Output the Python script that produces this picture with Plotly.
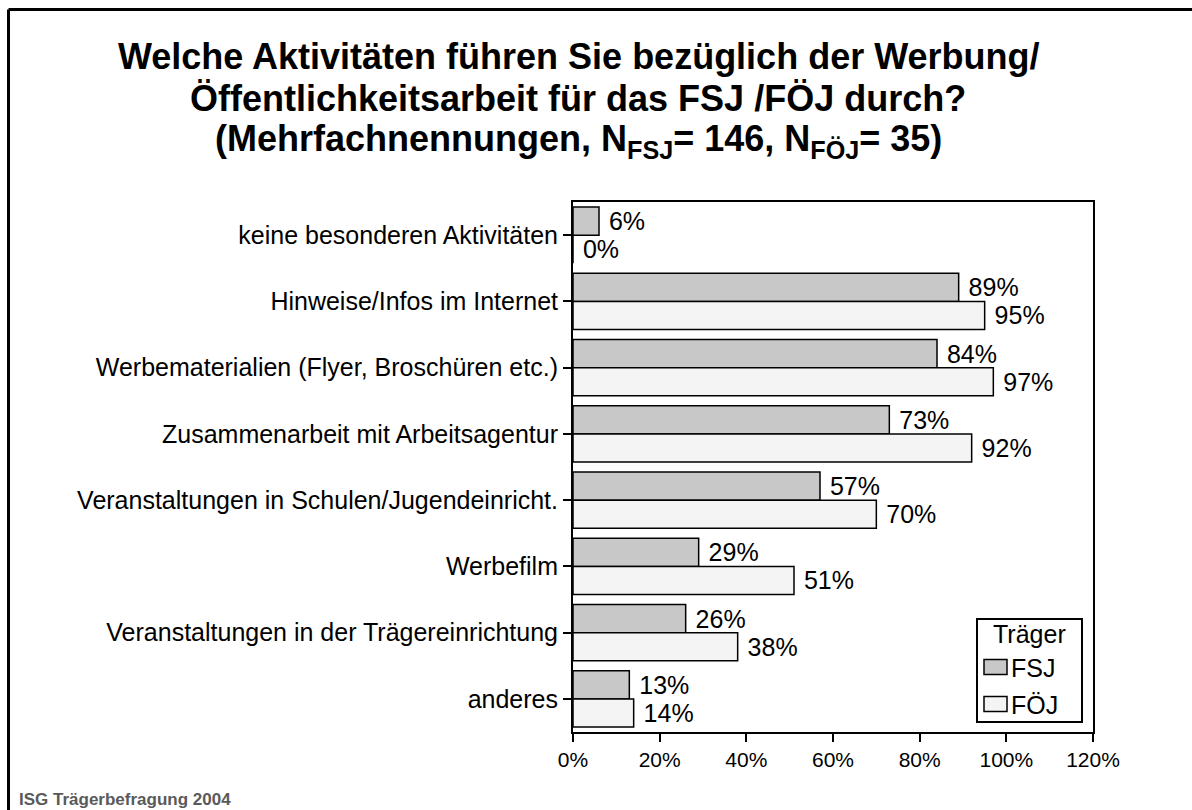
import plotly.graph_objects as go

categories = [
    "keine besonderen Aktivitäten",
    "Hinweise/Infos im Internet",
    "Werbematerialien (Flyer, Broschüren etc.)",
    "Zusammenarbeit mit Arbeitsagentur",
    "Veranstaltungen in Schulen/Jugendeinricht.",
    "Werbefilm",
    "Veranstaltungen in der Trägereinrichtung",
    "anderes",
]
fsj = [6, 89, 84, 73, 57, 29, 26, 13]
foej = [0, 95, 97, 92, 70, 51, 38, 14]
series_names = ["FSJ", "FÖJ"]
legend_title = "Träger"
x_ticks = [0, 20, 40, 60, 80, 100, 120]
x_labels = ["0%", "20%", "40%", "60%", "80%", "100%", "120%"]

FONT = "Arial, Liberation Sans, sans-serif"
COLORS = ["#c8c8c8", "#f4f4f4"]

fig = go.Figure()
for name, vals, col in zip(series_names, [fsj, foej], COLORS):
    fig.add_trace(go.Bar(
        y=categories, x=vals, orientation="h", name=name,
        marker=dict(color=col, line=dict(color="black", width=1.5)),
        text=[f" {v}%" for v in vals], textposition="outside",
        textfont=dict(size=25, color="black", family=FONT), cliponaxis=False,
    ))

L, R, T, B = 573, 1192 - 1093, 202, 810 - 732
pw, ph = 1192 - L - R, 810 - T - B

def px2x(px):
    return (px - L) / pw

def py2y(py):
    return (810 - B - py) / ph

fig.update_layout(
    width=1192, height=810,
    margin=dict(l=L, r=R, t=T, b=B),
    paper_bgcolor="white", plot_bgcolor="white",
    barmode="group", bargap=0.15, bargroupgap=0,
    font=dict(family=FONT, size=22, color="black"),
    showlegend=False,
)
fig.update_xaxes(
    range=[0, 120], tickvals=x_ticks, ticktext=x_labels,
    showgrid=False, zeroline=False, showline=True, linecolor="black", linewidth=2,
    ticks="outside", ticklen=8, tickwidth=1.5, tickcolor="black", mirror=True,
    tickfont=dict(size=21),
)
fig.update_yaxes(
    categoryorder="array", categoryarray=categories, autorange="reversed",
    showgrid=False, showline=True, linecolor="black", linewidth=2,
    ticks="outside", ticklen=8, tickwidth=1.5, tickcolor="black", mirror=True,
    tickfont=dict(size=25),
)

title_lines = [
    ("Welche Aktivitäten führen Sie bezüglich der Werbung/", 57),
    ("Öffentlichkeitsarbeit für das FSJ /FÖJ durch?", 99),
    ("(Mehrfachnennungen, N<sub>FSJ</sub>= 146, N<sub>FÖJ</sub>= 35)", 141),
]
for txt, yc in title_lines:
    fig.add_annotation(
        text=f"<b>{txt}</b>", xref="paper", yref="paper",
        x=px2x(578), y=py2y(yc), xanchor="center", yanchor="middle",
        showarrow=False, font=dict(size=36, family=FONT, color="black"),
    )

fig.add_annotation(
    text="<b>ISG Trägerbefragung 2004</b>", xref="paper", yref="paper",
    x=px2x(17), y=py2y(799), xanchor="left", yanchor="middle",
    showarrow=False, font=dict(size=17, family=FONT, color="#5a5a5a"),
)

# legend box (drawn by hand to match the rectangular swatches)
fig.add_shape(type="rect", xref="paper", yref="paper",
              x0=px2x(977), x1=px2x(1082), y0=py2y(619), y1=py2y(722),
              line=dict(color="black", width=2), fillcolor="white", layer="above")
fig.add_annotation(
    text=legend_title, xref="paper", yref="paper",
    x=px2x(1029.5), y=py2y(634), xanchor="center", yanchor="middle",
    showarrow=False, font=dict(size=25, family=FONT, color="black"),
)
for i, (name, col) in enumerate(zip(series_names, COLORS)):
    yc = 667 + 37 * i
    fig.add_shape(type="rect", xref="paper", yref="paper",
                  x0=px2x(984), x1=px2x(1007), y0=py2y(yc - 7.5), y1=py2y(yc + 7.5),
                  line=dict(color="black", width=1.5), fillcolor=col, layer="above")
    fig.add_annotation(
        text=name, xref="paper", yref="paper",
        x=px2x(1009), y=py2y(yc + 1), xanchor="left", yanchor="middle",
        showarrow=False, font=dict(size=25, family=FONT, color="black"),
    )

# outer frame (top and left edges)
fig.add_shape(type="line", xref="paper", yref="paper",
              x0=px2x(8.5), x1=px2x(1200), y0=py2y(9.5), y1=py2y(9.5),
              line=dict(color="black", width=3))
fig.add_shape(type="line", xref="paper", yref="paper",
              x0=px2x(8.5), x1=px2x(8.5), y0=py2y(9.5), y1=py2y(815),
              line=dict(color="black", width=3))

fig.write_html("out.html", config={"displayModeBar": False})

with open("out.html", "r", encoding="utf-8") as f:
    html = f.read()
html = html.replace("<body>", '<body style="margin:0;padding:0;overflow:hidden">', 1)
with open("out.html", "w", encoding="utf-8") as f:
    f.write(html)
